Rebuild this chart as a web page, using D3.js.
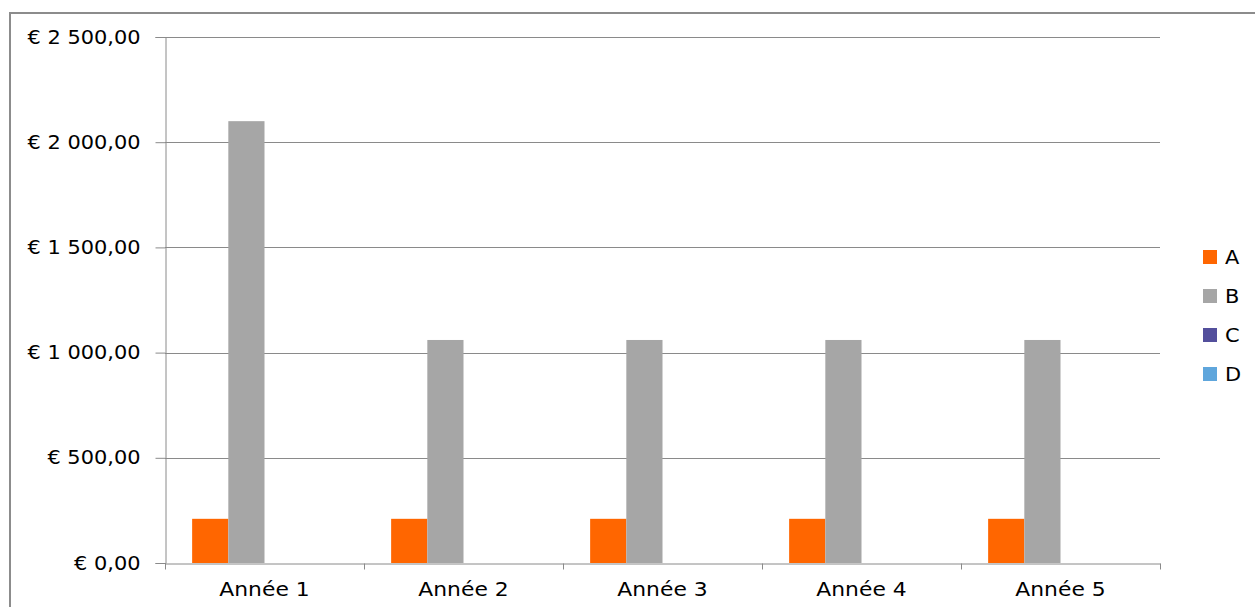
<!DOCTYPE html>
<html>
<head>
<meta charset="utf-8">
<script src="https://cdn.jsdelivr.net/npm/d3@7"></script>
<style>
  body { margin: 0; background: #fff; }
  text { font-family: "DejaVu Sans", Verdana, sans-serif; fill: #000; }
</style>
</head>
<body>
<svg id="chart" width="1255" height="607"></svg>
<script>
// chart data
const years = ["Année 1", "Année 2", "Année 3", "Année 4", "Année 5"]
const seriesNames = ["A", "B", "C", "D"]
const valuesA = [210, 210, 210, 210, 210]
const valuesB = [2100, 1060, 1060, 1060, 1060]
const valuesC = [0, 0, 0, 0, 0]
const valuesD = [0, 0, 0, 0, 0]
const yTicks = [0, 500, 1000, 1500, 2000, 2500]

const colors = { A: "#ff6600", B: "#a6a6a6", C: "#534f9c", D: "#5fa6dc" }

const svg = d3.select("#chart")

// outer frame (runs off the right and bottom edge)
svg.append("rect")
  .attr("x", 10).attr("y", 13)
  .attr("width", 1300).attr("height", 700)
  .attr("fill", "none").attr("stroke", "#8c8c8c").attr("stroke-width", 2)

const plot = { left: 165, top: 37, right: 1160, bottom: 563 }

const y = d3.scaleLinear().domain([0, 2500]).range([plot.bottom, plot.top])
const x0 = d3.scaleBand().domain(years).range([plot.left, plot.right]).padding(0)
// gap width 150% -> 0.75 bar on each side
const x1 = d3.scaleBand().domain(seriesNames).range([0, x0.bandwidth()])
  .paddingInner(0).paddingOuter(0.75)

const table = years.map((yr, i) => ({
  year: yr,
  A: valuesA[i], B: valuesB[i], C: valuesC[i], D: valuesD[i]
}))

// gridlines
svg.append("g").selectAll("line")
  .data(yTicks.filter(d => d > 0))
  .enter().append("line")
  .attr("x1", plot.left).attr("x2", plot.right)
  .attr("y1", d => Math.round(y(d)) + 0.5).attr("y2", d => Math.round(y(d)) + 0.5)
  .attr("stroke", "#8a8a8a")

// bars
const groups = svg.append("g").selectAll("g")
  .data(table)
  .enter().append("g")
  .attr("transform", d => "translate(" + x0(d.year) + ",0)")

groups.selectAll("rect")
  .data(d => seriesNames.map(s => ({ key: s, value: d[s] })))
  .enter().append("rect")
  .attr("x", d => x1(d.key))
  .attr("width", x1.bandwidth())
  .attr("y", d => y(d.value))
  .attr("height", d => plot.bottom - y(d.value))
  .attr("fill", d => colors[d.key])

// y axis
const fmt = v => {
  const s = d3.format(",.2f")(v)
  return "€ " + s.replace(/,/g, " ").replace(".", ",")
}
const yAxis = svg.append("g")
  .attr("transform", "translate(" + (plot.left + 0.5) + ",0)")
  .call(d3.axisLeft(y).tickValues(yTicks).tickSize(10).tickPadding(14).tickFormat(fmt))
yAxis.select(".domain").attr("stroke", "#8a8a8a")
yAxis.selectAll(".tick line").attr("stroke", "#8a8a8a")
// the reference text is a bit wider than DejaVu, stretch it horizontally
yAxis.selectAll(".tick text")
  .attr("x", 0)
  .attr("transform", "translate(-25,0) scale(1.1,1)")
  .style("font-family", "DejaVu Sans")
  .style("font-size", "19px")
  .attr("fill", "#000")

// x axis
const xAxis = svg.append("g")
  .attr("transform", "translate(0," + (plot.bottom + 0.5) + ")")
  .call(d3.axisBottom(x0).tickSize(0).tickPadding(19))
xAxis.select(".domain").attr("stroke", "#8a8a8a")
xAxis.selectAll(".tick text")
  .attr("transform", "scale(1.15,1)")
  .style("font-family", "DejaVu Sans")
  .style("font-size", "19px")
  .attr("fill", "#000")
// category boundary ticks
xAxis.append("g").selectAll("line")
  .data(d3.range(years.length + 1))
  .enter().append("line")
  .attr("x1", i => Math.round(plot.left + i * x0.step()) + 0.5)
  .attr("x2", i => Math.round(plot.left + i * x0.step()) + 0.5)
  .attr("y1", 0).attr("y2", 6)
  .attr("stroke", "#8a8a8a")

// legend
const legend = svg.append("g").selectAll("g")
  .data(seriesNames)
  .enter().append("g")
  .attr("transform", (d, i) => "translate(1203," + (257 + i * 39) + ")")
legend.append("rect")
  .attr("x", 0).attr("y", -7).attr("width", 14).attr("height", 14)
  .attr("fill", d => colors[d])
legend.append("text")
  .attr("x", 22).attr("y", 0).attr("dy", "0.36em")
  .attr("transform", "scale(1.1,1)")
  .attr("transform-origin", "22 0")
  .style("font-size", "19px")
  .text(d => d)
</script>
</body>
</html>
